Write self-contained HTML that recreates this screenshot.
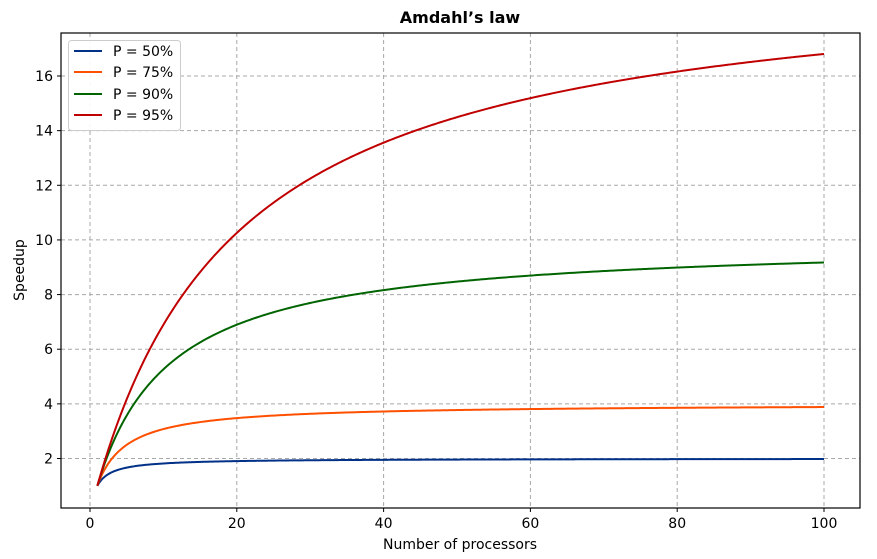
<!DOCTYPE html><html><head><style>body{margin:0;background:#fff}svg{display:block}text{font-family:"DejaVu Sans","Liberation Sans",sans-serif;fill:#000}</style></head><body>
<svg id="s" width="877" height="559" xmlns="http://www.w3.org/2000/svg">
<text x="460" y="23" font-size="16" font-weight="bold" text-anchor="middle">Amdahl’s law</text>
<g id="grid" stroke="#a8a8a8" stroke-dasharray="4,3" stroke-width="1"></g>
<g id="curves" fill="none" stroke-width="2"></g>
<rect x="61" y="33" width="799" height="475" fill="none" stroke="#000" stroke-width="1.2"/>
<g id="ticks" font-size="14"></g>
<text x="460" y="549" font-size="14" text-anchor="middle">Number of processors</text>
<text x="24" y="270" font-size="14" text-anchor="middle" transform="rotate(-90 24 270)">Speedup</text>
<rect x="68.5" y="40.5" width="112" height="90" rx="3" fill="#fff" stroke="#ccc" fill-opacity="0.9"/>
<g font-size="14">
<line x1="74" y1="51" x2="102" y2="51" stroke="#003087" stroke-width="2"/><text x="113" y="56">P = 50%</text>
<line x1="74" y1="72" x2="102" y2="72" stroke="#ff4f00" stroke-width="2"/><text x="113" y="77">P = 75%</text>
<line x1="74" y1="94" x2="102" y2="94" stroke="#006400" stroke-width="2"/><text x="113" y="99">P = 90%</text>
<line x1="74" y1="115" x2="102" y2="115" stroke="#c00000" stroke-width="2"/><text x="113" y="120">P = 95%</text>
</g>
</svg>
<script>
const NS="http://www.w3.org/2000/svg";
const X=n=>90+n*7.34, Y=v=>458.5-(v-2)*(382.5/14);
function el(p,t,a,txt){const e=document.createElementNS(NS,t);for(const k in a)e.setAttribute(k,a[k]);if(txt!=null)e.textContent=txt;document.getElementById(p).appendChild(e);}
for(let n=0;n<=100;n+=20){el("grid","line",{x1:X(n),x2:X(n),y1:33,y2:508});el("ticks","line",{x1:X(n),x2:X(n),y1:508,y2:512,stroke:"#000"});el("ticks","text",{x:X(n),y:528,"text-anchor":"middle"},n);}
for(let v=2;v<=16;v+=2){el("grid","line",{x1:61,x2:860,y1:Y(v),y2:Y(v)});el("ticks","line",{x1:57,x2:61,y1:Y(v),y2:Y(v),stroke:"#000"});el("ticks","text",{x:53,y:Y(v)+5,"text-anchor":"end"},v);}
[[0.5,"#003087"],[0.75,"#ff4f00"],[0.9,"#006400"],[0.95,"#c00000"]].forEach(([p,c])=>{let d="";for(let n=1;n<=100;n+=0.25){const s=1/((1-p)+p/n);d+=(d?"L":"M")+X(n).toFixed(2)+","+Y(s).toFixed(2);}el("curves","path",{d:d,stroke:c});});
</script>
</body></html>
